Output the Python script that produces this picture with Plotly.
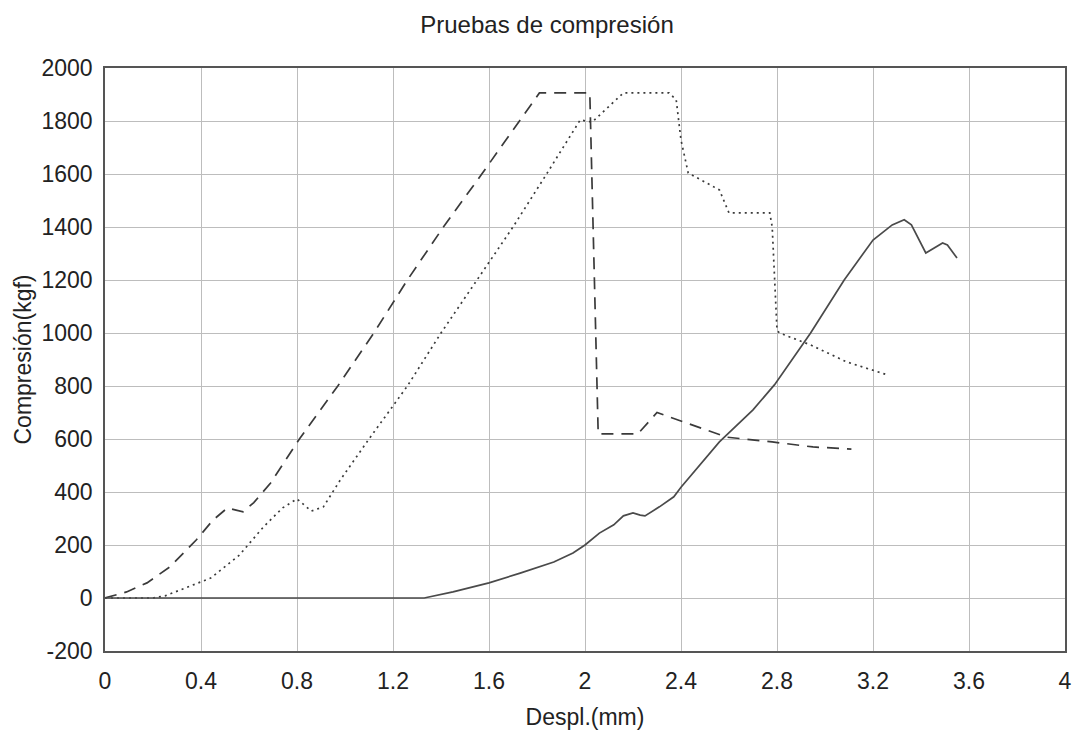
import plotly.graph_objects as go

# Dashed specimen
x_dash = [0, 0.09, 0.175, 0.27, 0.38, 0.45, 0.51, 0.575, 0.62, 0.69, 0.81, 0.97, 1.12, 1.26, 1.41, 1.57, 1.81, 2.02, 2.055, 2.22, 2.30, 2.41, 2.59, 2.78, 2.95, 3.11]
y_dash = [0, 23, 57, 117, 219, 294, 340, 325, 360, 434, 600, 800, 1000, 1200, 1400, 1600, 1906, 1906, 619, 619, 700, 664, 607, 589, 570, 562]

# Dotted specimen
x_dot = [0, 0.2, 0.25, 0.35, 0.44, 0.56, 0.66, 0.74, 0.8, 0.86, 0.91, 0.98, 1.10, 1.26, 1.40, 1.55, 1.70, 1.84, 1.98, 2.03, 2.12, 2.16, 2.35, 2.38, 2.40, 2.43, 2.56, 2.60, 2.77, 2.78, 2.80, 2.81, 2.94, 3.09, 3.26]
y_dot = [0, 0, 8, 42, 75, 162, 268, 340, 374, 328, 344, 445, 600, 800, 1000, 1200, 1400, 1600, 1804, 1796, 1872, 1906, 1906, 1880, 1728, 1604, 1540, 1453, 1453, 1400, 1011, 1000, 955, 891, 842]

# Solid specimen
x_solid = [0, 1.33, 1.45, 1.6, 1.73, 1.87, 1.95, 2.0, 2.06, 2.12, 2.16, 2.2, 2.23, 2.25, 2.31, 2.37, 2.40, 2.48, 2.56, 2.7, 2.79, 2.94, 3.08, 3.2, 3.28, 3.33, 3.36, 3.42, 3.49, 3.51, 3.55]
y_solid = [0, 0, 23, 57, 94, 136, 170, 200, 245, 276, 310, 321, 313, 310, 344, 382, 418, 502, 589, 710, 805, 1000, 1200, 1351, 1408, 1427, 1408, 1302, 1340, 1332, 1283]

x_ticks = [0, 0.4, 0.8, 1.2, 1.6, 2, 2.4, 2.8, 3.2, 3.6, 4]
x_ticktext = ["0", "0.4", "0.8", "1.2", "1.6", "2", "2.4", "2.8", "3.2", "3.6", "4"]
y_ticks = [-200, 0, 200, 400, 600, 800, 1000, 1200, 1400, 1600, 1800, 2000]
y_ticktext = ["-200", "0", "200", "400", "600", "800", "1000", "1200", "1400", "1600", "1800", "2000"]

fig = go.Figure()
fig.add_trace(go.Scatter(x=x_dash, y=y_dash, mode="lines",
                         line=dict(color="#3a3a3a", width=1.7, dash="12px,8px")))
fig.add_trace(go.Scatter(x=x_dot, y=y_dot, mode="lines",
                         line=dict(color="#3a3a3a", width=1.7, dash="2px,4px")))
fig.add_trace(go.Scatter(x=x_solid, y=y_solid, mode="lines",
                         line=dict(color="#4a4a4a", width=1.7)))

fig.update_layout(
    width=1073, height=733,
    margin=dict(l=105, r=8, t=68, b=82),
    paper_bgcolor="white", plot_bgcolor="white",
    showlegend=False,
    font=dict(family="Liberation Sans, Arial, sans-serif", size=23, color="#222"),
    title=dict(text="Pruebas de compresión", x=547 / 1073, xanchor="center", y=1 - 25 / 733, yanchor="middle",
               font=dict(size=24, color="#222")),
)
fig.update_xaxes(range=[0, 4], tickvals=x_ticks, ticktext=x_ticktext, automargin=False,
                 showgrid=True, gridcolor="#bdbdbd", gridwidth=1,
                 zeroline=False, showline=True, linecolor="#555", linewidth=1.5, mirror=True,
                 ticks="outside", ticklen=9, tickcolor="rgba(0,0,0,0)",
                 tickfont=dict(size=23),
                 title=dict(text="Despl.(mm)", standoff=16, font=dict(size=23)))
fig.update_yaxes(range=[-200, 2000], tickvals=y_ticks, ticktext=y_ticktext, automargin=False,
                 showgrid=True, gridcolor="#bdbdbd", gridwidth=1,
                 zeroline=False, showline=True, linecolor="#555", linewidth=1.5, mirror=True,
                 ticks="outside", ticklen=6, tickcolor="rgba(0,0,0,0)",
                 tickfont=dict(size=23),
                 title=dict(text="Compresión(kgf)", standoff=3, font=dict(size=23)))

fig.write_html("out.html", config={"displayModeBar": False},
               post_script="document.body.style.margin='0';")
